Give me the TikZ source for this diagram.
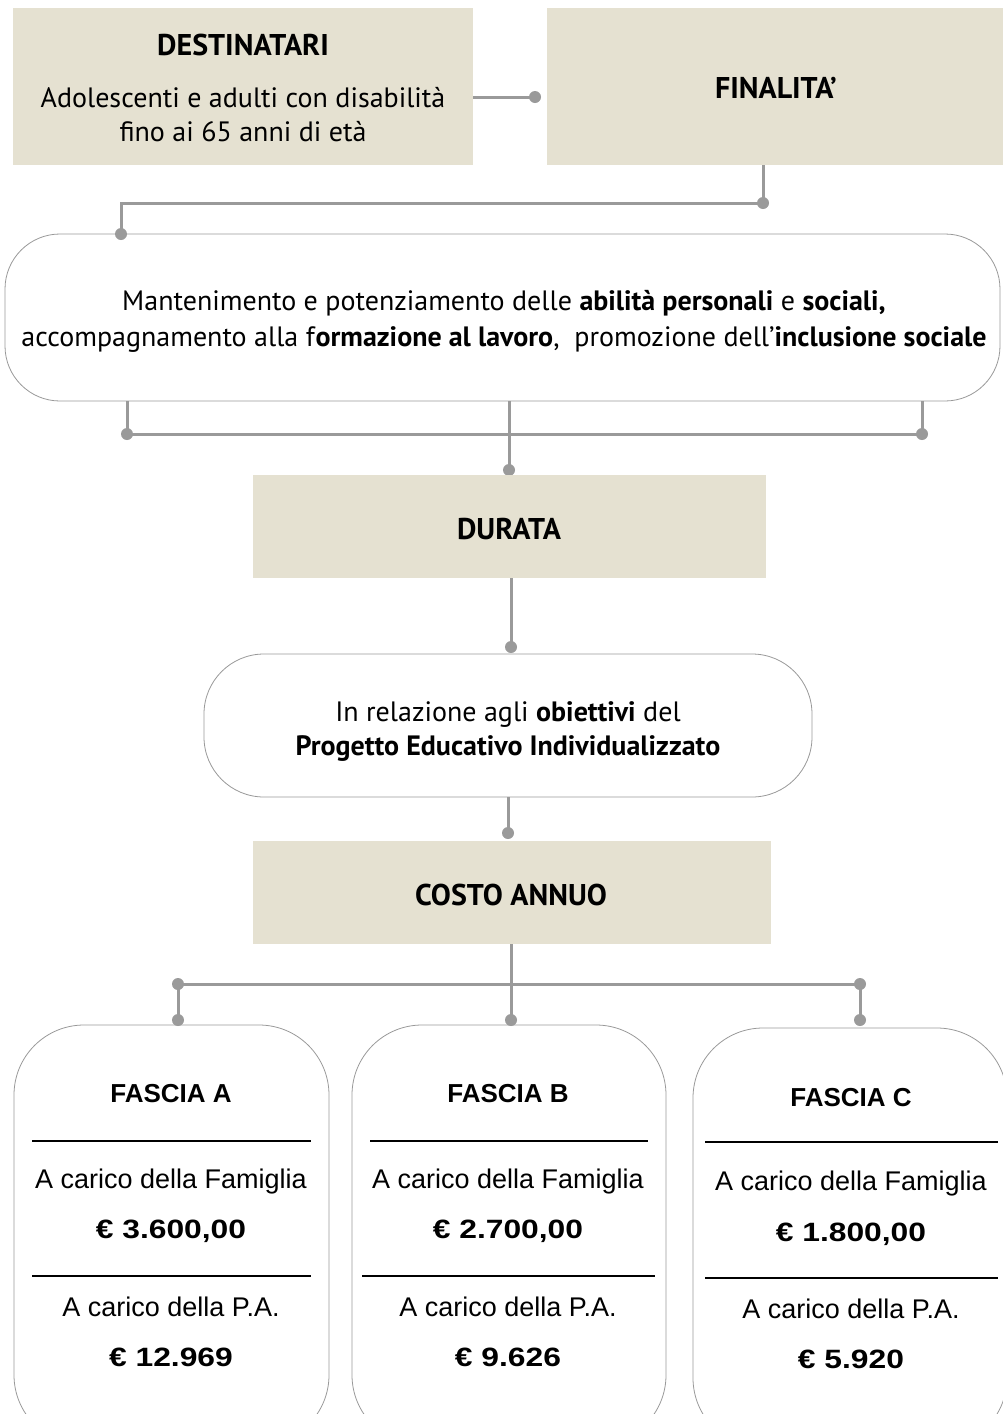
\documentclass[tikz,border=0pt]{standalone}
\usepackage{fontspec}
\setmainfont{PT Sans}
\newfontfamily\fasfont{Liberation Sans}
\newfontfamily\fasnum{Liberation Sans}[FakeStretch=1.2]
\definecolor{beige}{HTML}{E5E1D1}
\definecolor{conngray}{HTML}{9A9A9A}
\definecolor{boxline}{HTML}{999999}
\begin{document}
\begin{tikzpicture}[x=1pt,y=-1pt,
  beigebox/.style={fill=beige, draw=none, inner sep=0, outer sep=0},
  roundbox/.style={draw=boxline, line width=0.8pt, fill=white, rounded corners=#1, inner sep=0, outer sep=0},
  conn/.style={draw=conngray, line width=3pt},
  dot/.style={circle, fill=conngray, minimum size=12, inner sep=0, outer sep=0},
  txt/.style={inner sep=0, align=center, font=\fontsize{28}{35}\selectfont},
  head/.style={inner sep=0, align=center, font=\fontsize{30}{34}\selectfont\bfseries},
  ftxt/.style={inner sep=0, align=center, font=\fontsize{27}{30}\selectfont\fasfont},
  fhead/.style={inner sep=0, align=center, font=\fontsize{26}{30}\selectfont\fasfont\bfseries},
  fnum/.style={inner sep=0, align=center, font=\fontsize{26.5}{30}\selectfont\fasnum\bfseries},
  rule1/.style={line width=2.5pt, draw=black},
  rule2/.style={line width=1.5pt, draw=black}]
\useasboundingbox (0,0) rectangle (1002,1414);
% top boxes
\node[beigebox, minimum width=460, minimum height=157] (dest) at (243,86.5) {};
\node[head] (destT) at (243,45) {DESTINATARI};
\node[txt, font=\fontsize{28}{34}\selectfont] (destB) at (243,115) {Adolescenti e adulti con disabilità\\fino ai 65 anni di età};
\node[beigebox, minimum width=460, minimum height=157] (fin) at (777,86.5) {};
\node[head] (finT) at (776,88) {FINALITA’};
\node[dot] (d1) at (535,97) {};
\draw[conn] (dest.east |- d1) -- (d1.center);
% big rounded box
\node[roundbox=55, minimum width=995, minimum height=167] (big) at (502.5,317.5) {};
\node[txt, font=\fontsize{28}{36}\selectfont] (bigT) at (504,321) {Mantenimento e potenziamento delle \textbf{abilità personali} e \textbf{sociali,}\\accompagnamento alla f\textbf{ormazione al lavoro},\ \ promozione dell’\textbf{inclusione sociale}};
\node[dot] (d2) at (763,203) {};
\node[dot] (d3) at (121,234) {};
\draw[conn] (fin.south -| d2) -- (d2.center) -- (d2.center -| d3) -- (d3.center);
% below big box
\node[dot] (d4) at (127,434) {};
\node[dot] (d5) at (922,434) {};
\node[dot] (d6) at (509,470) {};
\draw[conn] (big.south -| d4) -- (d4.center) -- (d5.center) -- (big.south -| d5);
\draw[conn] (big.south -| d6) -- (d6.center);
% durata
\node[beigebox, minimum width=513, minimum height=103] (dur) at (509.5,526.5) {};
\node[head] (durT) at (509,529) {DURATA};
\node[dot] (d7) at (511,647) {};
\draw[conn] (dur.south -| d7) -- (d7.center);
\node[roundbox=60, minimum width=608, minimum height=143] (obj) at (508,725.5) {};
\node[txt, font=\fontsize{28}{34}\selectfont] (objT) at (508,732) {In relazione agli \textbf{obiettivi} del\\\textbf{Progetto Educativo Individualizzato}};
\node[dot] (d8) at (508,833) {};
\draw[conn] (obj.south -| d8) -- (d8.center);
% costo
\node[beigebox, minimum width=518, minimum height=103] (cost) at (512,892.5) {};
\node[head] (costT) at (511,895) {COSTO ANNUO};
% fascia boxes
\node[roundbox=70, minimum width=315, minimum height=420] (fa) at (171.5,1235) {};
\node[roundbox=70, minimum width=314, minimum height=420] (fb) at (509,1235) {};
\node[roundbox=70, minimum width=314, minimum height=420] (fc) at (850,1238) {};
\node[dot] (d9) at (178,984) {};
\node[dot] (d10) at (178,1020) {};
\node[dot] (d11) at (511,1020) {};
\node[dot] (d12) at (860,984) {};
\node[dot] (d13) at (860,1020) {};
\draw[conn] (d10.center) -- (d9.center) -- (d12.center) -- (d13.center);
\draw[conn] (cost.south -| d11) -- (d11.center);
% fascia A
\node[fhead] (faT) at (171,1094) {FASCIA A};
\draw[rule1] (32,1141) -- (311,1141);
\node[ftxt] (fa1) at (171,1182) {A carico della Famiglia};
\node[fnum] (fa2) at (171,1231) {€ 3.600,00};
\draw[rule2] (32,1276) -- (311,1276);
\node[ftxt] (fa3) at (171,1307) {A carico della P.A.};
\node[fnum] (fa4) at (171,1357) {€ 12.969};
% fascia B
\node[fhead] (fbT) at (508,1094) {FASCIA B};
\draw[rule2] (370,1141) -- (648,1141);
\node[ftxt] (fb1) at (508,1182) {A carico della Famiglia};
\node[fnum] (fb2) at (508,1231) {€ 2.700,00};
\draw[rule2] (362,1276) -- (655,1276);
\node[ftxt] (fb3) at (508,1307) {A carico della P.A.};
\node[fnum] (fb4) at (508,1357) {€ 9.626};
% fascia C
\node[fhead] (fcT) at (851,1098) {FASCIA C};
\draw[rule2] (705,1142) -- (998,1142);
\node[ftxt] (fc1) at (851,1184) {A carico della Famiglia};
\node[fnum] (fc2) at (851,1234) {€ 1.800,00};
\draw[rule2] (705,1278) -- (998,1278);
\node[ftxt] (fc3) at (851,1309) {A carico della P.A.};
\node[fnum] (fc4) at (851,1359) {€ 5.920};
\end{tikzpicture}
\end{document}
